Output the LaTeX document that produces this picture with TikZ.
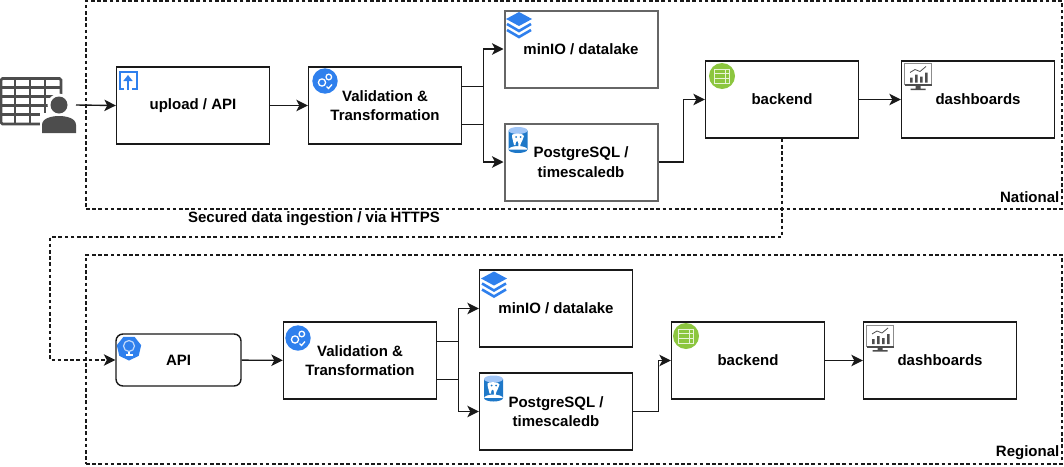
\documentclass[tikz,border=0pt]{standalone}
\usepackage{fontspec}
\setmainfont{Liberation Sans}
\usetikzlibrary{arrows.meta,positioning}
\definecolor{iconblue}{HTML}{2F80ED}
\definecolor{dbblue}{HTML}{1E78C8}
\definecolor{icongreen}{HTML}{8CC63F}
\definecolor{icongrey}{HTML}{4D4D4D}
\tikzset{
  box/.style={draw=black!90,line width=1.4pt,minimum width=153pt,minimum height=77pt,inner sep=0pt,align=center,
    font=\fontsize{15}{19.5}\selectfont\bfseries},
  greybox/.style={box,draw=black!60,line width=2pt},
  zone/.style={draw=black!90,line width=1.1pt,dash pattern=on 3.6pt off 2.6pt,minimum width=976pt,inner sep=0pt},
  zonetext/.style={inner sep=0pt,font=\fontsize{15}{18}\selectfont\bfseries},
  flow/.style={draw=black!90,line width=1.4pt,-{Stealth[length=11.5pt,width=11.5pt,inset=3pt]}},
  dashflow/.style={flow,line width=1.1pt,dash pattern=on 3.6pt off 2.6pt},
  pics/uploadicon/.style={code={
    \draw [iconblue,line width=2pt] (-4,8.5) -- (-8.5,8.5) -- (-8.5,-8.5) -- (8.5,-8.5) -- (8.5,8.5) -- (4,8.5);
    \draw [iconblue,line width=2.2pt,-{Triangle[length=6pt,width=9pt]}] (0,10) -- (0,-5);
  }},
  pics/gearicon/.style={code={
    \fill [iconblue] (0,0) circle (12.7);
    \draw [white,line width=1.3pt] (-3,1.5) circle (3.6) (3.8,-4) circle (2.8);
    \draw [white,line width=1.3pt] (1.5,5.5) -- (3.5,7.5) -- (7,3.5);
  }},
  pics/layersicon/.style={code={
    \fill [iconblue] (0,-13) -- (13,-6) -- (0,1) -- (-13,-6) -- cycle;
    \draw [iconblue,line width=2.6pt] (-12,-1) -- (0,6) -- (12,-1);
    \draw [iconblue,line width=2.6pt] (-12,5) -- (0,12) -- (12,5);
  }},
  pics/dbicon/.style={code={
    \fill [dbblue] (-9.5,-9.5) rectangle (9.5,9.5) (0,9.5) ellipse (9.5 and 3.5);
    \fill [iconblue!45] (0,-9.5) ellipse (9.5 and 3.5);
    \fill [white] (-6,-5) .. controls (-6,-7) and (6,-7) .. (6,-4) .. controls (6,0) and (3,0) .. (2,7)
      -- (0.5,7) .. controls (0.5,2) and (0,1) .. (-1,1) .. controls (-2,1) and (-2.5,3) .. (-2.5,5)
      -- (-4,5) .. controls (-4,2) and (-6,0) .. (-6,-5);
    \fill [dbblue] (-2,-3) circle (1) (2.5,-3) circle (1);
  }},
  pics/servericon/.style={code={
    \fill [icongreen] (0,0) circle (13);
    \draw [white!80!icongreen,line width=1pt] (-7.5,-7) rectangle (7.5,7) (-7.5,-2.3) -- (7.5,-2.3) (-7.5,2.3) -- (7.5,2.3) (3,-7) -- (3,7);
  }},
  pics/monitoricon/.style={code={
    \draw [black!45,line width=1pt] (-13.5,-13) rectangle (13.5,8);
    \fill [icongrey] (-13.5,7.5) rectangle (13.5,9.5);
    \fill [icongrey] (-2.5,9.5) rectangle (2.5,12) (-7.5,12) rectangle (7.5,13.5);
    \fill [icongrey] (-8,1) rectangle (-5.5,6) (-3,-2) rectangle (-0.5,6) (2,0) rectangle (4.5,6) (7,-4) rectangle (9.5,6);
    \draw [icongrey,line width=0.8pt] (-8,-4) -- (-3,-7) -- (2,-5) -- (8,-10);
  }},
  pics/kubeicon/.style={code={
    \fill [iconblue] (90:12.5) -- (141:12.5) -- (193:12.5) -- (244:12.5) -- (296:12.5) -- (347:12.5) -- (39:12.5) -- cycle;
    \draw [white!70!iconblue,line width=1.2pt] (0,-2) circle (5.5);
    \fill [white] (-3.5,6) rectangle (3.5,8);
    \draw [white,line width=1.2pt] (0,3.5) -- (0,6);
  }},
  pics/usericon/.style={code={
    \draw [icongrey,line width=2.6pt,rounded corners=1.5pt] (-37,-26.5) rectangle (23,19);
    \foreach \rowy in {-17.5,-8.5,0.5,9.5} \draw [icongrey,line width=2.2pt] (-37,\rowy) -- (23,\rowy);
    \foreach \colx in {-23,-8,7} \draw [icongrey,line width=2.2pt] (\colx,-26.5) -- (\colx,19);
    \fill [white] (21,0) circle (11.5) (2,28) rectangle (40,8);
    \fill [icongrey] (21,0) circle (8.5);
    \fill [icongrey] (4,28) -- (4,20) .. controls (4,13) and (14,11) .. (21,11) .. controls (28,11) and (38,13) .. (38,20) -- (38,28) -- cycle;
  }}
}
\begin{document}
\begin{tikzpicture}[x=1pt,y=-1pt]
\useasboundingbox (0,0) rectangle (1064,466);
% frames
\node [zone,minimum height=208pt] (national) at (574,105) {};
\node [zone,minimum height=209pt] (regional) at (574,359.5) {};
\node [zonetext,anchor=east] (nationaltext) at (1059.5,197) {National};
\node [zonetext,anchor=east] (regionaltext) at (1059.5,453) {Regional};
\node [zonetext] (ingesttext) at (314,218.5) {Secured data ingestion / via HTTPS};
% national row
\pic at (38,105) {usericon};
\coordinate (userout) at (76,105);
\node [box] (upload) at (193,105.5) {upload / API};
\node [box] (valid) at (385,105.5) {Validation \&\\Transformation};
\node [greybox] (minio) at (581,49) {minIO / datalake};
\node [greybox] (postgres) at (581,162) {PostgreSQL /\\timescaledb};
\node [box] (backend) at (782,99.5) {backend};
\node [box] (dash) at (978,99.5) {dashboards};
% regional row
\node [box,minimum width=125pt,minimum height=52pt,rounded corners=7pt] (api) at (178.5,360) {API};
\node [box] (validr) at (360,360.5) {Validation \&\\Transformation};
\node [box] (minior) at (556,308.5) {minIO / datalake};
\node [box] (postgresr) at (556,411.5) {PostgreSQL /\\timescaledb};
\node [box] (backendr) at (748,360.5) {backend};
\node [box] (dashr) at (940,360.5) {dashboards};
% icons
\pic at (128,80) {uploadicon};
\pic at (325,81) {gearicon};
\pic at (519,25) {layersicon};
\pic at (518,140) {dbicon};
\pic at (722,76) {servericon};
\pic at (918,76.5) {monitoricon};
\pic at (129,348) {kubeicon};
\pic at (298,338) {gearicon};
\pic at (494,284.5) {layersicon};
\pic at (493.5,388.5) {dbicon};
\pic at (686,336) {servericon};
\pic at (880,338) {monitoricon};
% connectors
\draw [flow] (userout) -- (upload.west);
\draw [flow] (upload) -- (valid);
\draw [flow] ([yshift=-19pt]valid.east) -- ++(21,0) |- (minio.west);
\draw [flow] ([yshift=19pt]valid.east) -- ++(21,0) |- (postgres.west);
\draw [flow] (postgres.east) -- ++(25,0) |- (backend.west);
\draw [flow] (backend) -- (dash);
\coordinate (ingestleft) at (50,237);
\draw [dashflow] (backend.south) |- (ingestleft) |- (api.west);
\draw [flow] (api) -- (validr);
\draw [flow] ([yshift=-19pt]validr.east) -- ++(21,0) |- (minior.west);
\draw [flow] ([yshift=19pt]validr.east) -- ++(21,0) |- (postgresr.west);
\draw [flow] (postgresr.east) -- ++(25,0) |- (backendr.west);
\draw [flow] (backendr) -- (dashr);
\end{tikzpicture}
\end{document}
